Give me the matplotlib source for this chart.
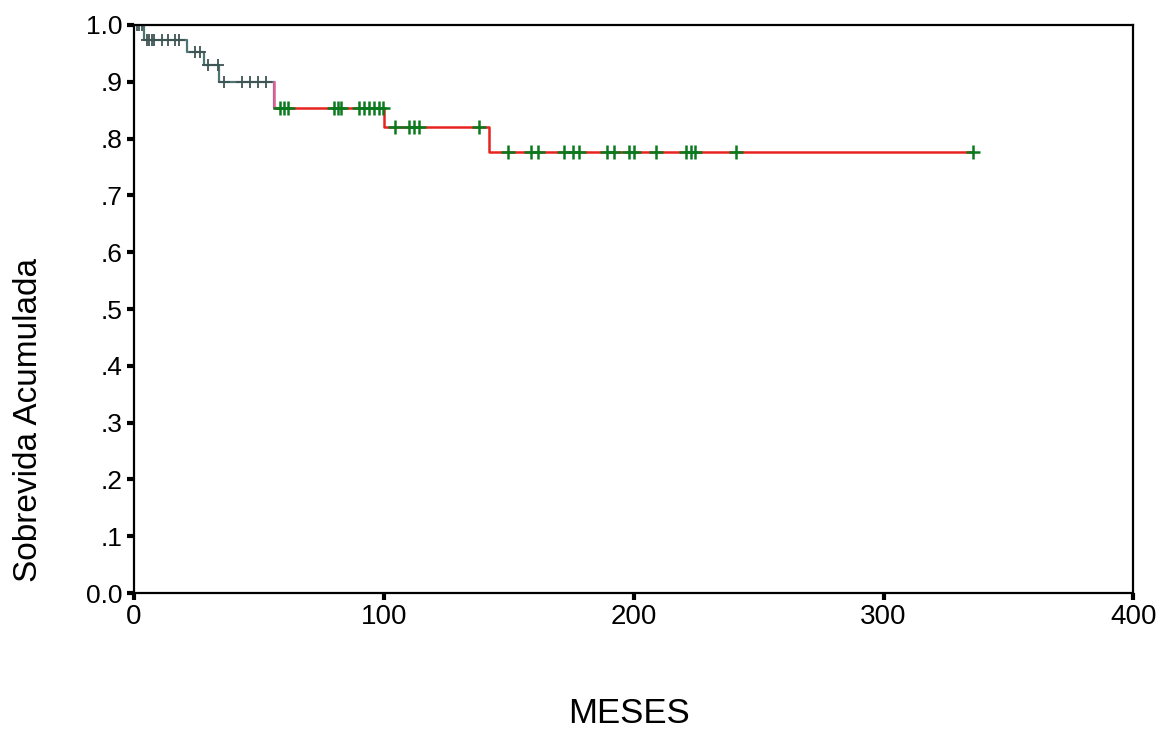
import numpy as np
import matplotlib.pyplot as plt

plt.rcParams['font.family'] = ['Liberation Sans', 'DejaVu Sans']

# step function (time where survival drops, survival after the drop)
step_times = [0, 4, 21, 28, 34, 56, 100, 142]
step_surv = [1.0, 0.974, 0.952, 0.93, 0.90, 0.854, 0.82, 0.776]

# censored observations (months)
censored = [1, 2, 3, 5, 6, 7, 8, 11, 13.5, 16.5, 18,
            24.5, 26.5, 29.5, 33.5, 36, 43, 46.5, 49.5, 53,
            58.5, 60, 61.5, 80, 81.5, 83, 90, 92, 94, 96, 98, 99.5,
            104.5, 110, 112, 114, 138,
            149.5, 159, 161.5, 172, 175.5, 178, 189.5, 192, 198, 200,
            209, 221, 223, 224.5, 241, 336]
last_time = 336

x_ticks = [0, 100, 200, 300, 400]
y_ticks = [0.0, 0.1, 0.2, 0.3, 0.4, 0.5, 0.6, 0.7, 0.8, 0.9, 1.0]
y_ticklabels = ['0.0', '.1', '.2', '.3', '.4', '.5', '.6', '.7', '.8', '.9', '1.0']


def surv_at(t):
  # survival value of the step function at time t
  idx = np.searchsorted(step_times, t, side='right') - 1
  return step_surv[idx]


fig = plt.figure(figsize=(11.66, 7.34), dpi=100)
ax = fig.add_axes([0.115, 0.192, 0.857, 0.774])

# early part of the curve looks grey-teal in the scan, the rest is red
split = 57
xs = list(step_times) + [last_time]
ys = list(step_surv) + [step_surv[-1]]
xs_early = [x for x in xs if x < split] + [split]
ys_early = [surv_at(x) for x in xs_early]
xs_late = [split] + [x for x in xs if x > split]
ys_late = [surv_at(x) for x in xs_late]
ax.step(xs_early, ys_early, where='post', color='#4f7474', lw=1.6)
ax.step(xs_late, ys_late, where='post', color='#e8231f', lw=1.8)
# pink vertical drop at 56
ax.plot([56, 56], [0.90, 0.854], color='#e0609a', lw=1.8)

cens = np.array(censored)
cens_y = np.array([surv_at(t) for t in cens])
early = cens < split
ax.plot(cens[early], cens_y[early], ls='none', marker='+', ms=8, mew=1.3,
        color='#3f5454')
ax.plot(cens[~early], cens_y[~early], ls='none', marker='+', ms=10, mew=1.8,
        color='#0a7a1e')

ax.set_xlim(0, 400)
ax.set_ylim(0, 1.0)
ax.set_xticks(x_ticks)
ax.set_xticklabels([str(t) for t in x_ticks], fontsize=20)
ax.set_yticks(y_ticks)
ax.set_yticklabels(y_ticklabels, fontsize=19)
ax.tick_params(direction='out', length=5, width=3, pad=3)
for s in ax.spines.values():
  s.set_linewidth(1.6)
  s.set_color('black')

ax.set_xlabel('MESES', fontsize=25)
ax.xaxis.set_label_coords(0.495, -0.183)
ax.set_ylabel('Sobrevida Acumulada', fontsize=24)
ax.yaxis.set_label_coords(-0.090, 0.305)

fig.savefig('out.png', dpi=100)
